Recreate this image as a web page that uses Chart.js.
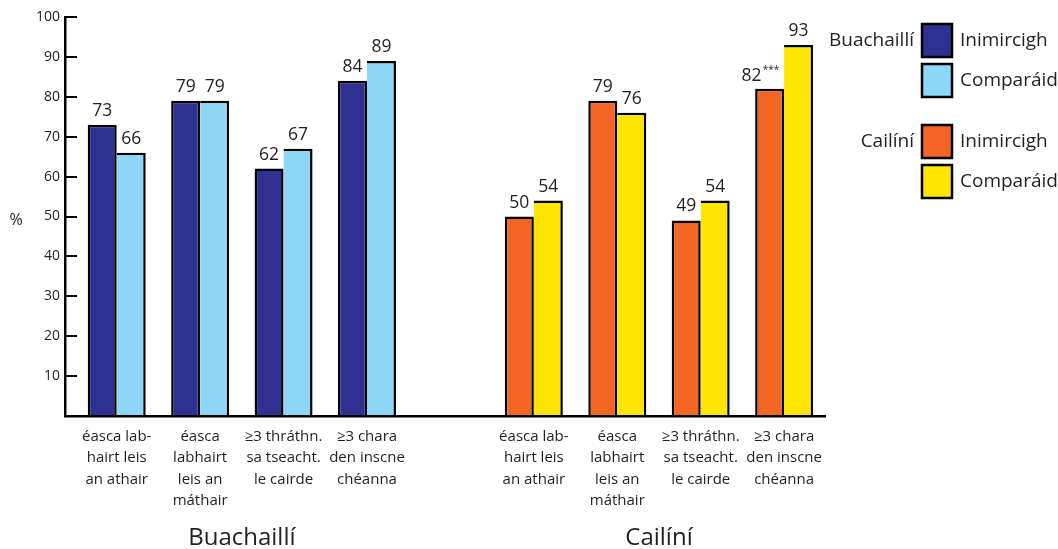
<!DOCTYPE html>
<html>
<head>
<meta charset="utf-8">
<script src="https://cdn.jsdelivr.net/npm/chart.js@4"></script>
<style>
    html, body { margin: 0; padding: 0; background: #fff; }
    #wrap { width: 1058px; height: 549px; }
</style>
</head>
<body>
<div id="wrap"><canvas id="chart"></canvas></div>
<script>
// chart data
const categories = [
    ['éasca lab-', 'hairt leis', 'an athair'],
    ['éasca', 'labhairt', 'leis an', 'máthair'],
    ['≥3 thráthn.', 'sa tseacht.', 'le cairde'],
    ['≥3 chara', 'den inscne', 'chéanna']
];
const groups = ['Buachaillí', 'Cailíní'];
const seriesNames = ['Inimircigh', 'Comparáid'];
const boysImmigrant = [73, 79, 62, 84];
const boysComparison = [66, 79, 67, 89];
const girlsImmigrant = [50, 79, 49, 82];
const girlsComparison = [54, 76, 54, 93];
const girlsImmigrantSig = ['', '', '', '***'];
const yTicks = [0, 10, 20, 30, 40, 50, 60, 70, 80, 90, 100];

const GIRLS_OFFSET = 5; // one empty slot between the two groups
const INK = '#231f20';
const colors = {
    boys: ['#2e3192', '#8dd8f8'],
    girls: ['#f26522', '#ffe600']
};
const FONT = '"Open Sans", sans-serif';

const toPoints = (boys, girls) => [
    ...boys.map((v, i) => ({ x: i, y: v })),
    ...girls.map((v, i) => ({ x: i + GIRLS_OFFSET, y: v }))
];

const colorFor = (series) => (ctx) =>
    ctx.raw && ctx.raw.x >= GIRLS_OFFSET ? colors.girls[series] : colors.boys[series];

const labelFor = (value) => {
    if (value >= 0 && value < categories.length) return categories[value];
    const g = value - GIRLS_OFFSET;
    if (g >= 0 && g < categories.length) return categories[g];
    return '';
};

// value labels, group titles, legend and axis title
const annotations = {
    id: 'annotations',
    afterDatasetsDraw(chart) {
        const ctx = chart.ctx;
        const area = chart.chartArea;
        const xScale = chart.scales.x;
        const yScale = chart.scales.y;
        ctx.save();
        ctx.fillStyle = INK;

        chart.data.datasets.forEach((ds, di) => {
            const meta = chart.getDatasetMeta(di);
            meta.data.forEach((bar, i) => {
                const raw = ds.data[i];
                const gi = raw.x - GIRLS_OFFSET;
                const sig = di === 0 && gi >= 0 ? girlsImmigrantSig[gi] : '';
                ctx.font = '17.5px ' + FONT;
                ctx.textBaseline = 'alphabetic';
                if (sig) {
                    ctx.textAlign = 'right';
                    ctx.fillText(String(raw.y), bar.x - 8, bar.y - 8);
                    ctx.font = '10px ' + FONT;
                    ctx.textAlign = 'left';
                    ctx.fillText(sig, bar.x - 7, bar.y - 16);
                } else {
                    ctx.textAlign = 'center';
                    ctx.fillText(String(raw.y), bar.x, bar.y - 9);
                }
            });
        });

        // group titles under the categories
        ctx.font = '24px ' + FONT;
        ctx.textAlign = 'center';
        ctx.textBaseline = 'middle';
        ctx.fillText(groups[0], xScale.getPixelForValue((categories.length - 1) / 2), area.bottom + 122);
        ctx.fillText(groups[1], xScale.getPixelForValue(GIRLS_OFFSET + (categories.length - 1) / 2), area.bottom + 122);

        // "%" axis title
        ctx.font = '16px ' + FONT;
        ctx.fillText('%', 16, yScale.getPixelForValue(50) + 4);

        // legend
        const boxX = area.right + 97;
        const rows = [
            { y: 24, group: groups[0], series: 0, color: colors.boys[0] },
            { y: 64, group: '', series: 1, color: colors.boys[1] },
            { y: 125, group: groups[1], series: 0, color: colors.girls[0] },
            { y: 165, group: '', series: 1, color: colors.girls[1] }
        ];
        ctx.font = '19px ' + FONT;
        ctx.lineWidth = 2.5;
        ctx.strokeStyle = '#000';
        rows.forEach(r => {
            ctx.fillStyle = r.color;
            ctx.fillRect(boxX, r.y, 30, 33);
            ctx.strokeRect(boxX, r.y, 30, 33);
            ctx.fillStyle = INK;
            ctx.textAlign = 'left';
            ctx.fillText(seriesNames[r.series], boxX + 38, r.y + 17);
            if (r.group) {
                ctx.textAlign = 'right';
                ctx.fillText(r.group, boxX - 8, r.y + 17);
            }
        });
        ctx.restore();
    }
};

new Chart(document.getElementById('chart').getContext('2d'), {
    type: 'bar',
    data: {
        datasets: [{
            label: seriesNames[0],
            data: toPoints(boysImmigrant, girlsImmigrant),
            backgroundColor: colorFor(0),
            borderColor: '#000',
            borderWidth: { top: 2.5, left: 2.5, right: 2.5, bottom: 0 },
            borderSkipped: false,
            barPercentage: 1,
            categoryPercentage: 0.695
        }, {
            label: seriesNames[1],
            data: toPoints(boysComparison, girlsComparison),
            backgroundColor: colorFor(1),
            borderColor: '#000',
            borderWidth: { top: 2.5, left: 0, right: 2.5, bottom: 0 },
            borderSkipped: false,
            barPercentage: 1,
            categoryPercentage: 0.695
        }]
    },
    options: {
        responsive: true,
        maintainAspectRatio: false,
        animation: false,
        layout: { padding: { top: 17, right: 233, left: 0, bottom: 0 } },
        plugins: {
            legend: { display: false },
            tooltip: { enabled: false }
        },
        scales: {
            x: {
                type: 'linear',
                min: -0.62,
                max: 8.49,
                offset: false,
                grid: { display: false, drawTicks: false },
                border: { display: true, color: '#000', width: 2.5 },
                ticks: {
                    stepSize: 1,
                    includeBounds: false,
                    autoSkip: false,
                    maxRotation: 0,
                    padding: 10,
                    color: INK,
                    font: { family: FONT, size: 15, lineHeight: 1.42 },
                    callback: (value) => labelFor(value)
                },
                afterFit: (scale) => {
                    scale.height = 133;
                    scale.paddingLeft = 0;
                    scale.paddingRight = 0;
                }
            },
            y: {
                min: yTicks[0],
                max: yTicks[yTicks.length - 1],
                afterBuildTicks: (scale) => { scale.ticks = yTicks.map(v => ({ value: v })); },
                grid: {
                    drawOnChartArea: false,
                    drawTicks: true,
                    tickLength: -12,
                    color: '#000',
                    lineWidth: 2
                },
                border: { display: true, color: '#000', width: 2.5 },
                ticks: {
                    padding: 17,
                    color: INK,
                    font: { family: FONT, size: 14 },
                    callback: (value) => value === 0 ? '' : value
                },
                afterFit: (scale) => {
                    scale.width = 65;
                    scale.paddingTop = 0;
                    scale.paddingBottom = 0;
                }
            }
        }
    },
    plugins: [annotations]
});
</script>
</body>
</html>
